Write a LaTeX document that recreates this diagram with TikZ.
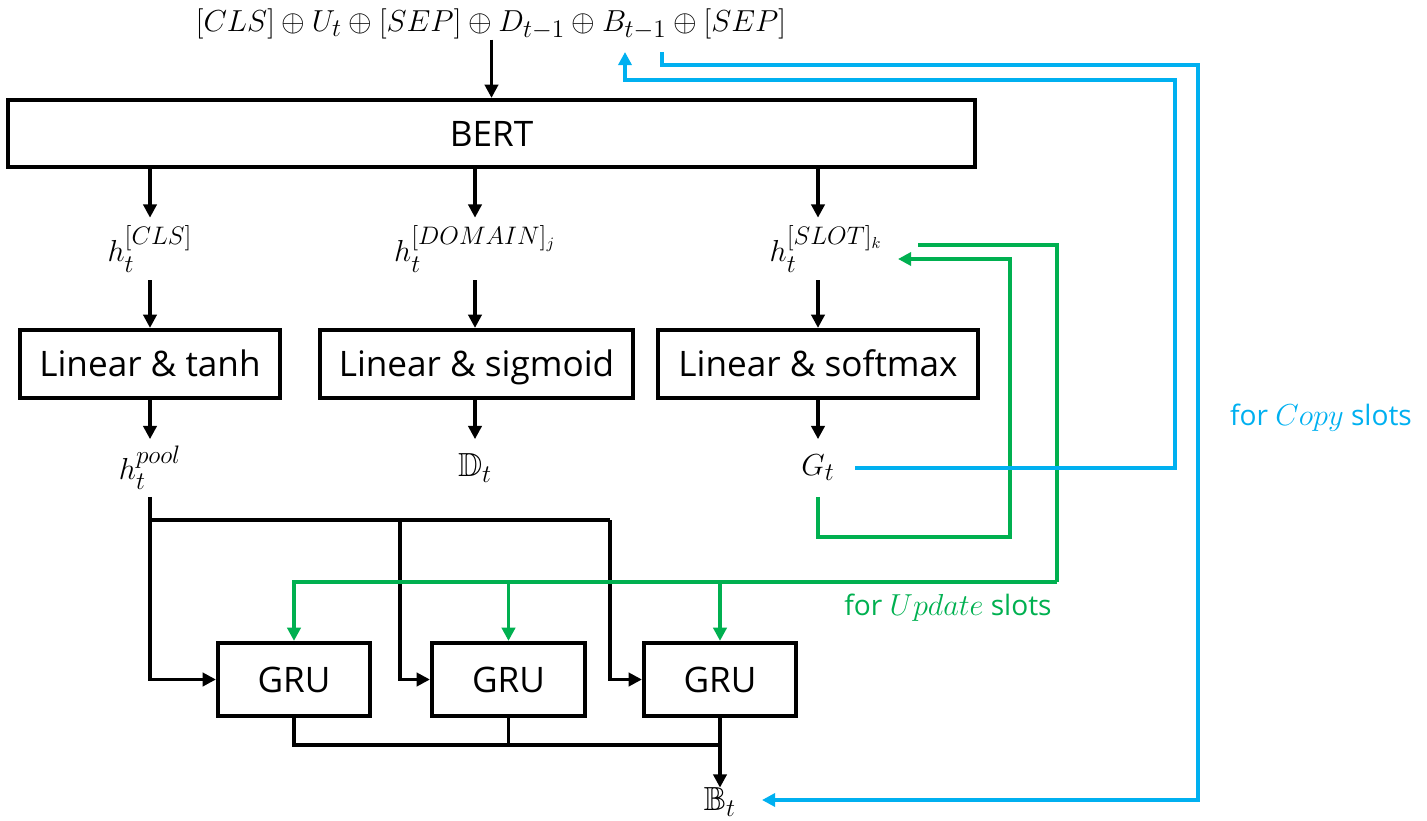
\documentclass[tikz,border=0pt]{standalone}
\usepackage{amsmath}
\usepackage{amssymb}
\usepackage{fontspec}
\setmainfont{Open Sans}
\usepackage{tikz}
\usetikzlibrary{arrows.meta, positioning, calc}
\definecolor{copyblue}{RGB}{0,176,240}
\definecolor{updgreen}{RGB}{0,176,80}
\tikzset{>={Triangle[length=7.5pt,width=7.5pt]}}
\tikzset{
  block/.style={draw, line width=2.4pt, inner sep=0pt, text height=14.3pt, text depth=0pt, font=\fontsize{20}{24}\selectfont},
  vec/.style={inner sep=0pt, font=\fontsize{19}{22}\selectfont},
  flow/.style={->, line width=1.8pt},
  upd/.style={draw=updgreen, line width=2.2pt},
  cpy/.style={draw=copyblue, line width=2.2pt}
}

\begin{document}
\begin{tikzpicture}[x=0.02cm, y=-0.02cm]
\useasboundingbox (0,0) rectangle (1427,821);

\node[vec] (input) at (491,24) {$[CLS] \oplus U_t \oplus [SEP] \oplus D_{t-1} \oplus B_{t-1} \oplus [SEP]$};
\node[block, minimum width=19.34cm, minimum height=1.34cm] (bert) at (491.5,133.5) {BERT};

\node[vec, minimum height=1.24cm] (hcls) at (150,249) {$h_t^{[CLS]}$};
\node[vec, minimum height=1.24cm] (hdom) at (475,249) {$h_t^{[DOMAIN]_j}$};
\node[vec, minimum height=1.24cm] (hslot) at (826,249) {$h_t^{[SLOT]_k}$};

\node[block, minimum width=5.2cm, minimum height=1.36cm] (tanh) at (150,364) {Linear \& tanh};
\node[block, minimum width=6.26cm, minimum height=1.36cm] (sigm) at (476.5,364) {Linear \& sigmoid};
\node[block, minimum width=6.4cm, minimum height=1.36cm] (soft) at (818,364) {Linear \& softmax};

\node[vec, minimum height=1.14cm] (hpool) at (150,468) {$h_t^{pool}$};
\node[vec, minimum height=1.14cm] (dom) at (475,468) {$\mathbb{D}_t$};
\node[vec, minimum height=1.14cm, minimum width=1.48cm] (gate) at (818,468) {$G_t$};

\node[block, minimum width=3.04cm, minimum height=1.46cm] (gru1) at (294,679.5) {GRU};
\node[block, minimum width=3.06cm, minimum height=1.46cm] (gru2) at (508.5,679.5) {GRU};
\node[block, minimum width=3.04cm, minimum height=1.46cm] (gru3) at (720,679.5) {GRU};
\node[vec] (belief) at (720,802) {$\mathbb{B}_t$};

\node[text=copyblue, font=\fontsize{16}{19}\selectfont] (copytxt) at (1321,418) {for $Copy$ slots};
\node[text=updgreen, font=\fontsize{16}{19}\selectfont] (updtxt) at (948,608) {for $Update$ slots};

% points on the input line and beside the labels
\coordinate (bin) at (625,52);
\coordinate (bout) at (662,52);
\coordinate (updout) at (918,245);
\coordinate (updin) at (898,259);
\coordinate (btin) at (762,800);
\coordinate (split1) at (400,520);
\coordinate (split2) at (610,520);
\coordinate (join) at (720,745);

% main flow
\draw[flow] (input.south -| bert) -- (bert.north);
\draw[flow] (bert.south -| hcls) -- (hcls.north);
\draw[flow] (bert.south -| hdom) -- (hdom.north);
\draw[flow] (bert.south -| 818,0) -- (gate.north |- hslot.north);
\draw[flow] (hcls.south) -- (tanh.north);
\draw[flow] (hdom.south) -- (sigm.north -| hdom);
\draw[flow] (soft.north |- hslot.south) -- (soft.north);
\draw[flow] (tanh.south) -- (hpool.north);
\draw[flow] (sigm.south -| dom) -- (dom.north);
\draw[flow] (soft.south) -- (gate.north);

% into the GRUs
\draw[flow] (hpool.south) |- (gru1.west);
\draw[line width=1.8pt] (hpool.south |- split1) -- (split2);
\draw[flow] (split1) |- (gru2.west);
\draw[flow] (split2) |- (gru3.west);

% out of the GRUs
\draw[line width=1.8pt] (gru1.south) |- (join);
\draw[line width=1.8pt] (gru2.south) -- (gru2.south |- join);
\draw[flow] (gru3.south) -- (belief.north);

% update slots
\coordinate (updcorner) at (1057,582);
\coordinate (gatecorner) at (1010,537);
\draw[upd] (updout) -| (updcorner);
\draw[upd, ->, updgreen] (updcorner) -| (gru1.north);
\draw[upd, ->, updgreen] (gru2.north |- updcorner) -- (gru2.north);
\draw[upd, ->, updgreen] (gru3.north |- updcorner) -- (gru3.north);
\draw[upd, ->, updgreen] (gate.south) |- (gatecorner) |- (updin);

% copy slots
\coordinate (copycorner) at (1175,80);
\coordinate (copytop) at (1198,65);
\draw[cpy, ->, copyblue] (gate.east) -| (copycorner) -| (bin);
\draw[cpy, ->, copyblue] (bout) |- (copytop) |- (btin);
\end{tikzpicture}
\end{document}
